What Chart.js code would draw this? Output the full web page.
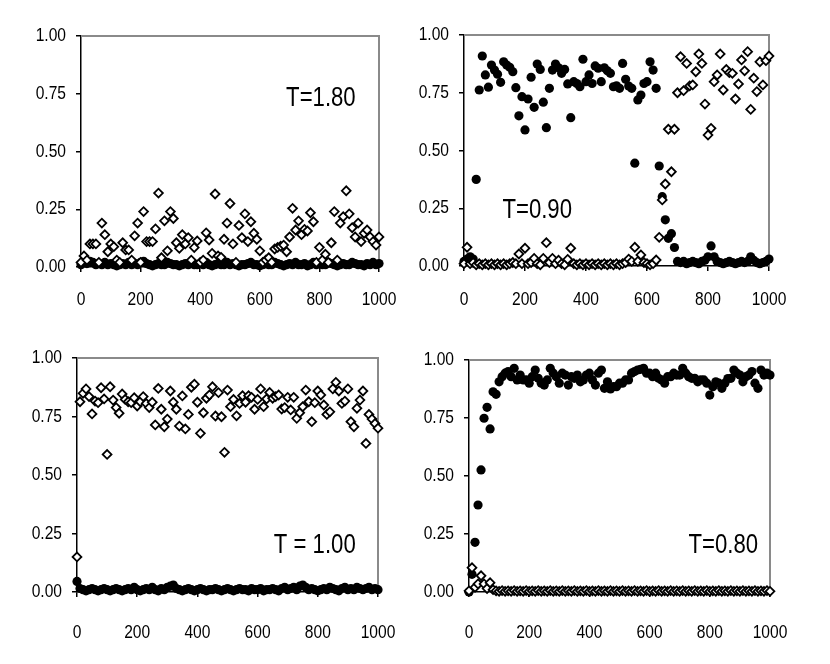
<!DOCTYPE html>
<html><head><meta charset="utf-8">
<script src="https://cdn.jsdelivr.net/npm/chart.js@4"></script>
<style>
html,body{margin:0;padding:0;background:#fff;width:830px;height:664px;overflow:hidden}
canvas{position:absolute}
</style></head><body>
<canvas id="c1"></canvas><canvas id="c2"></canvas><canvas id="c3"></canvas><canvas id="c4"></canvas>
<script>
// Monte Carlo step (x) shared by every series
const steps = [
0,10,20,30,40,50,60,70,80,90,
100,110,120,130,140,150,160,170,180,190,
200,210,220,230,240,250,260,270,280,290,
300,310,320,330,340,350,360,370,380,390,
400,410,420,430,440,450,460,470,480,490,
500,510,520,530,540,550,560,570,580,590,
600,610,620,630,640,650,660,670,680,690,
700,710,720,730,740,750,760,770,780,790,
800,810,820,830,840,850,860,870,880,890,
900,910,920,930,940,950,960,970,980,990,
1000];

// T = 1.80
const t180Circles = [
0.01,0.02,0.015,0.025,0.02,0.01,0.015,0.01,0.02,0.01,
0.015,0.01,0.005,0.01,0.015,0.01,0.02,0.01,0.015,0.01,
0.02,0.025,0.015,0.01,0.005,0.01,0.015,0.01,0.01,0.02,
0.015,0.01,0.01,0.005,0.01,0.015,0.01,0.02,0.01,0.01,
0.015,0.01,0.02,0.01,0.005,0.01,0.015,0.01,0.01,0.02,
0.01,0.015,0.01,0.005,0.01,0.01,0.015,0.02,0.01,0.01,
0.005,0.01,0.015,0.01,0.01,0.02,0.015,0.01,0.005,0.01,
0.015,0.01,0.02,0.01,0.01,0.015,0.005,0.01,0.02,0.01,
0.015,0.01,0.01,0.02,0.015,0.01,0.005,0.01,0.015,0.01,
0.01,0.02,0.015,0.01,0.01,0.005,0.015,0.01,0.02,0.01,
0.015];
const t180Diamonds = [
0.02,0.048,0.03,0.10,0.10,0.10,0.02,0.19,0.14,0.066,
0.10,0.088,0.03,0.02,0.105,0.074,0.074,0.03,0.135,0.19,
0.02,0.24,0.11,0.11,0.11,0.165,0.32,0.04,0.20,0.07,
0.24,0.21,0.105,0.081,0.14,0.10,0.127,0.03,0.084,0.113,
0.02,0.03,0.148,0.117,0.059,0.316,0.048,0.042,0.12,0.19,
0.275,0.10,0.02,0.18,0.127,0.23,0.11,0.196,0.146,0.12,
0.07,0.02,0.03,0.04,0.02,0.078,0.085,0.09,0.095,0.066,
0.13,0.254,0.16,0.20,0.14,0.163,0.156,0.235,0.196,0.02,
0.085,0.03,0.055,0.02,0.105,0.24,0.03,0.19,0.218,0.33,
0.23,0.17,0.13,0.19,0.11,0.146,0.16,0.13,0.11,0.095,
0.13];

// T = 0.90
const t090Circles = [
0.02,0.03,0.04,0.03,0.375,0.762,0.909,0.827,0.774,0.87,
0.848,0.83,0.795,0.884,0.87,0.86,0.841,0.772,0.65,0.733,
0.589,0.723,0.817,0.687,0.874,0.851,0.709,0.599,0.769,0.848,
0.874,0.858,0.834,0.851,0.788,0.642,0.798,0.79,0.776,0.895,
0.798,0.827,0.79,0.866,0.856,0.798,0.858,0.845,0.834,0.776,
0.78,0.769,0.877,0.808,0.779,0.769,0.445,0.719,0.74,0.79,
0.798,0.884,0.848,0.769,0.433,0.30,0.20,0.12,0.14,0.08,
0.02,0.015,0.02,0.01,0.015,0.02,0.015,0.01,0.02,0.025,
0.04,0.087,0.04,0.02,0.015,0.01,0.015,0.02,0.015,0.01,
0.015,0.02,0.015,0.02,0.04,0.025,0.015,0.01,0.015,0.02,
0.03];
const t090Diamonds = [
0.01,0.081,0.01,0.015,0.005,0.01,0.005,0.01,0.005,0.01,
0.005,0.01,0.005,0.01,0.005,0.01,0.015,0.01,0.052,0.01,
0.077,0.01,0.015,0.033,0.01,0.005,0.033,0.101,0.015,0.033,
0.01,0.025,0.01,0.005,0.029,0.077,0.01,0.005,0.01,0.005,
0.01,0.005,0.01,0.005,0.01,0.005,0.01,0.005,0.01,0.005,
0.01,0.005,0.01,0.015,0.03,0.02,0.081,0.02,0.048,0.015,
0.01,0.005,0.01,0.026,0.124,0.286,0.355,0.592,0.408,0.592,
0.75,0.906,0.759,0.877,0.78,0.784,0.841,0.918,0.877,0.701,
0.567,0.596,0.798,0.827,0.918,0.762,0.851,0.837,0.834,0.723,
0.788,0.892,0.845,0.928,0.678,0.813,0.755,0.884,0.784,0.889,
0.909];

// T = 1.00
const t100Circles = [
0.045,0.015,0.01,0.005,0.01,0.015,0.01,0.005,0.01,0.015,
0.01,0.005,0.01,0.015,0.01,0.005,0.01,0.015,0.01,0.02,
0.01,0.005,0.01,0.015,0.01,0.02,0.01,0.005,0.015,0.01,
0.02,0.025,0.03,0.015,0.01,0.005,0.01,0.015,0.01,0.005,
0.01,0.015,0.01,0.005,0.01,0.01,0.015,0.01,0.005,0.01,
0.015,0.01,0.005,0.01,0.015,0.01,0.01,0.005,0.015,0.01,
0.01,0.015,0.005,0.01,0.01,0.015,0.01,0.005,0.015,0.02,
0.01,0.015,0.02,0.01,0.025,0.03,0.02,0.01,0.015,0.01,
0.005,0.01,0.015,0.01,0.02,0.015,0.01,0.005,0.015,0.02,
0.01,0.015,0.01,0.02,0.015,0.01,0.015,0.02,0.01,0.015,
0.01];
const t100Diamonds = [
0.15,0.813,0.849,0.868,0.835,0.761,0.816,0.809,0.873,0.825,
0.588,0.877,0.82,0.788,0.764,0.846,0.823,0.813,0.809,0.83,
0.795,0.813,0.835,0.806,0.788,0.811,0.714,0.87,0.781,0.706,
0.739,0.859,0.811,0.781,0.709,0.838,0.697,0.759,0.875,0.888,
0.811,0.678,0.766,0.828,0.842,0.877,0.752,0.852,0.749,0.597,
0.863,0.792,0.823,0.753,0.806,0.839,0.811,0.839,0.832,0.781,
0.823,0.868,0.792,0.825,0.853,0.828,0.835,0.842,0.782,0.788,
0.832,0.778,0.832,0.742,0.766,0.792,0.863,0.813,0.728,0.809,
0.859,0.842,0.799,0.759,0.77,0.868,0.896,0.859,0.806,0.816,
0.868,0.728,0.706,0.785,0.82,0.859,0.635,0.759,0.739,0.72,
0.70];

// T = 0.80
const t080Circles = [
0.0,0.076,0.214,0.375,0.526,0.749,0.796,0.703,0.863,0.852,
0.906,0.928,0.943,0.95,0.928,0.964,0.914,0.935,0.914,0.914,
0.90,0.928,0.957,0.921,0.90,0.892,0.914,0.964,0.943,0.928,
0.90,0.943,0.935,0.892,0.928,0.921,0.935,0.906,0.914,0.935,
0.943,0.914,0.892,0.943,0.957,0.878,0.906,0.875,0.885,0.885,
0.90,0.90,0.914,0.914,0.943,0.95,0.957,0.96,0.964,0.943,
0.943,0.928,0.943,0.921,0.914,0.90,0.928,0.928,0.943,0.935,
0.935,0.964,0.943,0.928,0.921,0.921,0.906,0.914,0.914,0.90,
0.849,0.885,0.906,0.90,0.878,0.90,0.92,0.921,0.957,0.943,
0.935,0.906,0.928,0.935,0.95,0.90,0.878,0.957,0.935,0.943,
0.935];
const t080Diamonds = [
0.005,0.105,0.02,0.035,0.07,0.035,0.015,0.04,0.01,0.005,
0.003,0.006,0.003,0.005,0.003,0.006,0.003,0.005,0.003,0.006,
0.003,0.005,0.003,0.006,0.003,0.005,0.003,0.006,0.003,0.005,
0.003,0.006,0.003,0.005,0.003,0.006,0.003,0.005,0.003,0.006,
0.003,0.005,0.003,0.006,0.003,0.005,0.003,0.006,0.003,0.005,
0.003,0.006,0.003,0.005,0.003,0.006,0.003,0.005,0.003,0.006,
0.003,0.005,0.003,0.006,0.003,0.005,0.003,0.006,0.003,0.005,
0.003,0.006,0.003,0.005,0.003,0.006,0.003,0.005,0.003,0.006,
0.003,0.005,0.003,0.006,0.003,0.005,0.003,0.006,0.003,0.005,
0.003,0.006,0.003,0.005,0.003,0.006,0.003,0.005,0.003,0.006,
0.003];

const xTicks = [0,200,400,600,800,1000];
const yTicks = [0,0.25,0.5,0.75,1];
const panelTitles = ['T=1.80','T=0.90','T = 1.00','T=0.80'];

const FONT = "'Liberation Sans', Arial, sans-serif";
const SQUEEZE = 0.82;   // reference text is set in a narrow face

function pts(arr){ return steps.map((x,i)=>({x:x, y:arr[i]})).filter(p=>p.y!=null); }

function drawNarrow(ctx, text, x, y, align, base){
  ctx.save();
  ctx.translate(x, y); ctx.scale(SQUEEZE, 1);
  ctx.textAlign = align; ctx.textBaseline = base;
  ctx.fillText(text, 0, 0);
  ctx.restore();
}

const framePlugin = {
  id:'frame',
  beforeDatasetsDraw(chart){
    const a = chart.chartArea, ctx = chart.ctx;
    ctx.save();
    ctx.strokeStyle = '#8a8a8a'; ctx.lineWidth = 2;
    ctx.beginPath();
    ctx.moveTo(a.left, a.top); ctx.lineTo(a.right, a.top); ctx.lineTo(a.right, a.bottom);
    ctx.stroke();
    ctx.restore();
  }
};
// tick labels drawn from the chart's own scale ticks, in a narrow setting
const tickLabelPlugin = {
  id:'narrowTicks',
  afterDraw(chart, args, opts){
    const ctx = chart.ctx, xs = chart.scales.x, ys = chart.scales.y;
    ctx.save();
    ctx.fillStyle = '#000';
    ctx.font = opts.size + 'px ' + FONT;
    xs.ticks.forEach(t => drawNarrow(ctx, String(t.value), xs.getPixelForValue(t.value), xs.top + opts.xOff, 'center', 'middle'));
    ys.ticks.forEach(t => drawNarrow(ctx, t.value.toFixed(2), ys.right - opts.yOff, ys.getPixelForValue(t.value), 'right', 'middle'));
    ctx.restore();
  }
};
const titlePlugin = {
  id:'ptitle',
  afterDraw(chart, args, opts){
    const ctx = chart.ctx;
    ctx.save();
    ctx.fillStyle = '#000';
    ctx.font = opts.size + 'px ' + FONT;
    drawNarrow(ctx, opts.text, chart.scales.x.getPixelForValue(opts.x), chart.scales.y.getPixelForValue(opts.y), 'center', 'middle');
    ctx.restore();
  }
};

function makePanel(id, area, circles, diamonds, title, titleAt, xOff){
  const padL = 80, padT = 14, padR = 34, padB = 60;
  const cv = document.getElementById(id);
  const w = area.r - area.l + padL + padR, h = area.b - area.t + padT + padB;
  cv.width = w; cv.height = h;
  cv.style.left = (area.l - padL) + 'px'; cv.style.top = (area.t - padT) + 'px';
  cv.style.width = w + 'px'; cv.style.height = h + 'px';
  new Chart(cv, {
    type:'scatter',
    data:{datasets:[
      {data:pts(diamonds), pointStyle:'rectRot', radius:4.4, backgroundColor:'#fff', borderColor:'#000', borderWidth:1.8, clip:false},
      {data:pts(circles), pointStyle:'circle', radius:4.6, backgroundColor:'#000', borderColor:'#000', borderWidth:0, clip:false}
    ]},
    options:{
      responsive:false, animation:false, devicePixelRatio:1,
      layout:{padding:{left:0, top:padT, right:padR, bottom:0}},
      plugins:{legend:{display:false}, tooltip:{enabled:false},
        ptitle:{text:title, x:titleAt[0], y:titleAt[1], size:27},
        narrowTicks:{size:19, xOff:xOff, yOff:15}},
      scales:{
        x:{type:'linear', min:0, max:1000,
          afterBuildTicks:s=>{ s.ticks = xTicks.map(v=>({value:v})); },
          afterFit:s=>{ s.height = padB; },
          grid:{drawOnChartArea:false, drawTicks:true, tickLength:5, color:'#000', lineWidth:1.5},
          border:{color:'#000', width:1.5},
          ticks:{display:false}},
        y:{type:'linear', min:0, max:1,
          afterBuildTicks:s=>{ s.ticks = yTicks.map(v=>({value:v})); },
          afterFit:s=>{ s.width = padL; },
          grid:{drawOnChartArea:false, drawTicks:true, tickLength:5, color:'#000', lineWidth:1.5},
          border:{color:'#000', width:1.5},
          ticks:{display:false}}
      }
    },
    plugins:[framePlugin, tickLabelPlugin, titlePlugin]
  });
}

makePanel('c1', {l:81, t:36, r:379, b:267}, t180Circles, t180Diamonds, panelTitles[0], [805, 0.73], 33);
makePanel('c2', {l:464, t:35, r:769, b:266}, t090Circles, t090Diamonds, panelTitles[1], [240, 0.24], 34);
makePanel('c3', {l:77, t:358, r:378, b:592}, t100Circles, t100Diamonds, panelTitles[2], [790, 0.197], 41);
makePanel('c4', {l:469, t:360, r:770, b:592}, t080Circles, t080Diamonds, panelTitles[3], [845, 0.20], 41);
</script>
</body></html>
